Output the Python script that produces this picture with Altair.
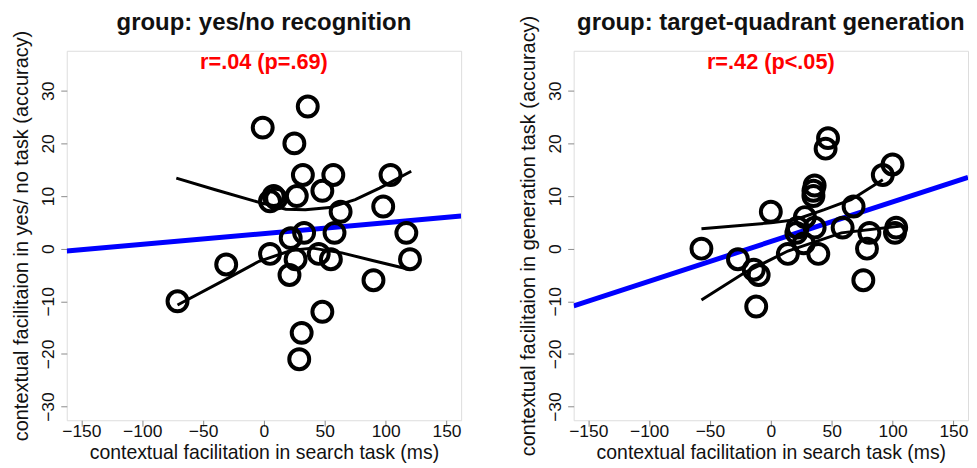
import altair as alt
import pandas as pd

FONT = "Liberation Sans"

# ---------------- data ----------------
titles = ["group: yes/no recognition", "group: target-quadrant generation"]
stats = ["r=.04 (p=.69)", "r=.42 (p<.05)"]
y_titles = ["contextual facilitaion in yes/ no task (accuracy)",
            "contextual facilitaion in generation task (accuracy)"]
x_title = "contextual facilitation in search task (ms)"

x_ticks = [-150, -100, -50, 0, 50, 100, 150]
y_ticks = [-30, -20, -10, 0, 10, 20, 30]

# panel 1: yes/no recognition
left_x = [36, -1, 25, 32, 57, 104, 5, 8, 10, 27, 48, 63, 98, 33, 22, 58, 117,
          5, -31, 26, 45, 55, 120, 21, 90, -71, 48, 31, 29]
left_y = [27, 23, 20, 14, 14, 14, 9, 10, 9.5, 10, 11, 7, 8, 3, 2, 3, 3,
          -1, -3, -2, -1, -2, -2, -5, -6, -10, -12, -16, -21]
left_curveA_x = [-72, -40, -4, 18, 34, 54, 75, 95, 121]
left_curveA_y = [13.4, 11.2, 8.8, 7.5, 7.4, 7.8, 9.3, 11.5, 14.7]
left_curveB_x = [-71, -31, -4, 23, 40, 64, 90, 119]
left_curveB_y = [-10.7, -5.8, -2.4, -0.3, 0.1, -0.8, -2.3, -3.9]
left_fit_x = [-162, 162]
left_fit_y = [-0.44, 6.2]

# panel 2: target-quadrant generation
right_x = [47, 45, 100, 92, 36, 35, 35, 0, 68, 28, 22, 36, 21, 59, 81, 103, 102,
           -57, -27, -14, -10, 14, 39, 79, 76, -12, 27]
right_y = [21, 19, 16, 14, 12, 11, 10, 7, 8, 6, 4, 4, 3, 4, 3, 4, 3,
           0, -2, -4, -5, -1, -1, 0, -6, -11, 1]
right_curveA_x = [-57, 0, 20, 44, 66, 92]
right_curveA_y = [3.8, 4.9, 5.5, 7.4, 9.3, 13.1]
right_curveB_x = [-57, -21, 14, 58, 107]
right_curveB_y = [-9.75, -4.5, -0.45, 3.0, 4.3]
right_fit_x = [-162, 162]
right_fit_y = [-10.87, 13.55]

W, H = 396, 371
xs = alt.Scale(domain=[-162, 162], nice=False, zero=False)
ys = alt.Scale(domain=[-32.6, 37.6], nice=False, zero=False)


def panel(title, stat, ytitle, px, py, ax, ay, bx, by, fx, fy):
    pts = pd.DataFrame({"x": px, "y": py})
    curves = pd.concat([
        pd.DataFrame({"x": ax, "y": ay, "c": "a", "o": range(len(ax))}),
        pd.DataFrame({"x": bx, "y": by, "c": "b", "o": range(len(bx))}),
    ])
    fit = pd.DataFrame({"x": fx, "y": fy})

    xenc = alt.X("x:Q", scale=xs, title=x_title,
                 axis=alt.Axis(values=x_ticks, grid=False, domain=False,
                               tickColor="#8a8a8a", tickSize=6,
                               labelFontSize=17.5, labelFont=FONT, labelColor="#111",
                               labelBaseline="middle", labelPadding=5,
                               titleFontSize=19.5, titleFont=FONT,
                               titleFontWeight="normal", titleColor="#111",
                               titlePadding=4))
    yenc = alt.Y("y:Q", scale=ys, title=ytitle,
                 axis=alt.Axis(values=y_ticks, grid=False, domain=False,
                               tickColor="#8a8a8a", tickSize=6,
                               labelFontSize=17.5, labelFont=FONT, labelColor="#111",
                               labelAngle=270, labelPadding=3,
                               titleFontSize=20, titleFont=FONT,
                               titleFontWeight="normal", titleColor="#111",
                               titlePadding=8))

    blue = alt.Chart(fit).mark_line(color="#0000ff", strokeWidth=5, clip=True).encode(x=xenc, y=yenc)
    black = alt.Chart(curves).mark_line(color="black", strokeWidth=3, clip=True).encode(
        x=xenc, y=yenc, detail="c:N", order="o:Q")
    dots = alt.Chart(pts).mark_point(shape="circle", filled=False, color="black",
                                     strokeWidth=4, size=400, opacity=1).encode(x=xenc, y=yenc)
    txt = alt.Chart(pd.DataFrame({"t": [stat]})).mark_text(
        color="#ff0000", font=FONT, fontSize=21.8, fontWeight="bold",
        baseline="alphabetic", align="center").encode(
        text="t:N", x=alt.value(W / 2), y=alt.value(18))
    ttl = alt.Chart(pd.DataFrame({"t": [title]})).mark_text(
        color="#111", font=FONT, fontSize=24, fontWeight="bold",
        baseline="alphabetic", align="center").encode(
        text="t:N", x=alt.value(W / 2), y=alt.value(-21))
    return alt.layer(blue, black, dots, txt, ttl).properties(width=W, height=H)


p1 = panel(titles[0], stats[0], y_titles[0], left_x, left_y,
           left_curveA_x, left_curveA_y, left_curveB_x, left_curveB_y, left_fit_x, left_fit_y)
p2 = panel(titles[1], stats[1], y_titles[1], right_x, right_y,
           right_curveA_x, right_curveA_y, right_curveB_x, right_curveB_y, right_fit_x, right_fit_y)

chart = alt.hconcat(p1, p2, spacing=113, bounds="flush").properties(
    padding={"left": 3, "top": 1, "right": 0, "bottom": 0}
).configure_view(stroke="#8a8a8a", strokeWidth=1.2).configure(background="white")

chart.save("out.html", embed_options={"renderer": "svg", "actions": False})
